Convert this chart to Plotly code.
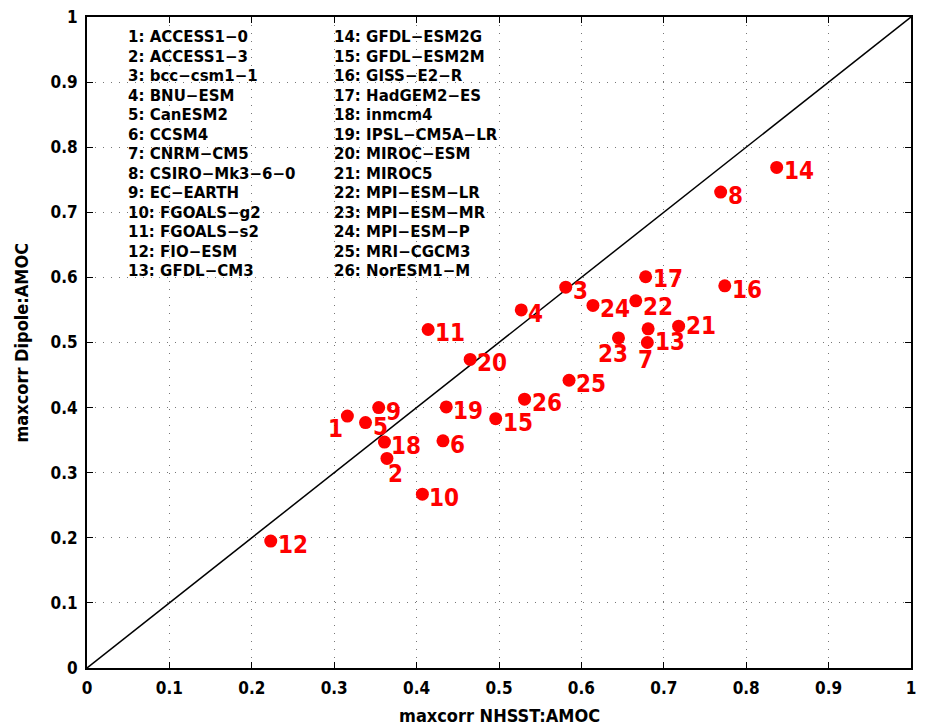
import plotly.graph_objects as go

# ---- data ----
model_ids = list(range(1, 27))
model_names = [
    "ACCESS1−0", "ACCESS1−3", "bcc−csm1−1", "BNU−ESM", "CanESM2", "CCSM4",
    "CNRM−CM5", "CSIRO−Mk3−6−0", "EC−EARTH", "FGOALS−g2", "FGOALS−s2",
    "FIO−ESM", "GFDL−CM3", "GFDL−ESM2G", "GFDL−ESM2M", "GISS−E2−R",
    "HadGEM2−ES", "inmcm4", "IPSL−CM5A−LR", "MIROC−ESM", "MIROC5",
    "MPI−ESM−LR", "MPI−ESM−MR", "MPI−ESM−P", "MRI−CGCM3", "NorESM1−M",
]
maxcorr_nhsst = [0.316, 0.364, 0.581, 0.527, 0.338, 0.432, 0.680, 0.769, 0.354,
                 0.407, 0.414, 0.223, 0.681, 0.837, 0.496, 0.774, 0.678, 0.361,
                 0.436, 0.465, 0.718, 0.666, 0.645, 0.614, 0.585, 0.531]
maxcorr_dipole = [0.387, 0.322, 0.585, 0.550, 0.377, 0.349, 0.500, 0.731, 0.400,
                  0.267, 0.520, 0.195, 0.521, 0.769, 0.383, 0.587, 0.601, 0.347,
                  0.401, 0.474, 0.525, 0.564, 0.507, 0.557, 0.442, 0.413]
tick_vals = [0, 0.1, 0.2, 0.3, 0.4, 0.5, 0.6, 0.7, 0.8, 0.9, 1]
tick_text = ["0", "0.1", "0.2", "0.3", "0.4", "0.5", "0.6", "0.7", "0.8", "0.9", "1"]
x_title = "maxcorr NHSST:AMOC"
y_title = "maxcorr Dipole:AMOC"

# ---- styles ----
FONT = "DejaVu Sans Condensed, DejaVu Sans, sans-serif"
LEGFONT = "DejaVu Sans, sans-serif"
RED = "#ff0000"
# label placement: (xanchor, xshift px, yshift px)
default_offset = ("left", 5, -4)
special_offsets = {
    1: ("center", -12, -13),
    2: ("center", 9, -16),
    7: ("center", -2, -17),
    13: ("left", 5, -13),
    17: ("left", 5, -2),
    21: ("left", 5, 0),
    22: ("left", 5, -6),
    23: ("center", -5, -16),
}

fig = go.Figure()

# identity line
fig.add_trace(go.Scatter(x=[tick_vals[0], tick_vals[-1]], y=[tick_vals[0], tick_vals[-1]],
                         mode="lines", line=dict(color="black", width=1.5),
                         hoverinfo="skip", showlegend=False))

fig.add_trace(go.Scatter(x=maxcorr_nhsst, y=maxcorr_dipole, mode="markers",
                         marker=dict(color=RED, size=13, line=dict(width=0)),
                         text=model_names, showlegend=False, cliponaxis=False))

annotations = []
for mid, xv, yv in zip(model_ids, maxcorr_nhsst, maxcorr_dipole):
    xa, xs, ys = special_offsets.get(mid, default_offset)
    annotations.append(dict(x=xv, y=yv, xref="x", yref="y", text=str(mid),
                            showarrow=False, xanchor=xa, yanchor="middle",
                            xshift=xs, yshift=ys,
                            font=dict(family=FONT, size=24, color=RED, weight="bold")))

# legend-like text listing (two columns)
n_col1 = 13
entries = [f"{mid}: {name}" for mid, name in zip(model_ids, model_names)]
for col_text, xpos in (("<br>".join(entries[:n_col1]), 0.047),
                       ("<br>".join(entries[n_col1:]), 0.297)):
    annotations.append(dict(x=xpos, y=0.790, xref="x", yref="y", text=col_text,
                            showarrow=False, xanchor="left", yanchor="middle", align="left",
                            font=dict(family=LEGFONT, size=15, color="black", weight="bold")))

# axis titles
annotations.append(dict(x=0.5, y=0, xref="paper", yref="paper", text=x_title,
                        showarrow=False, xanchor="center", yanchor="middle", yshift=-47,
                        font=dict(family=FONT, size=18, color="black", weight="bold")))
annotations.append(dict(x=0, y=0.5, xref="paper", yref="paper", text=y_title,
                        showarrow=False, xanchor="center", yanchor="middle", xshift=-66,
                        textangle=-90,
                        font=dict(family=FONT, size=18, color="black", weight="bold")))

axis_common = dict(
    range=[0, 1], tickvals=tick_vals, ticktext=tick_text,
    showgrid=True, gridcolor="#777777", griddash="1px,7px", gridwidth=1,
    zeroline=False, showline=True, linecolor="black", linewidth=2, mirror="ticks",
    ticks="inside", ticklen=6, tickwidth=1, tickcolor="black",
    ticklabelstandoff=4, automargin=False,
    tickfont=dict(family=FONT, size=17, color="black", weight="bold"),
)

fig.update_layout(
    width=928, height=725,
    margin=dict(l=87, r=17, t=17, b=57),
    plot_bgcolor="white", paper_bgcolor="white",
    xaxis=dict(**axis_common),
    yaxis=dict(**axis_common),
    annotations=annotations,
    showlegend=False,
)

fig.write_html("out.html", config={"displayModeBar": False},
               post_script="document.body.style.margin='0';document.body.style.padding='0';")
